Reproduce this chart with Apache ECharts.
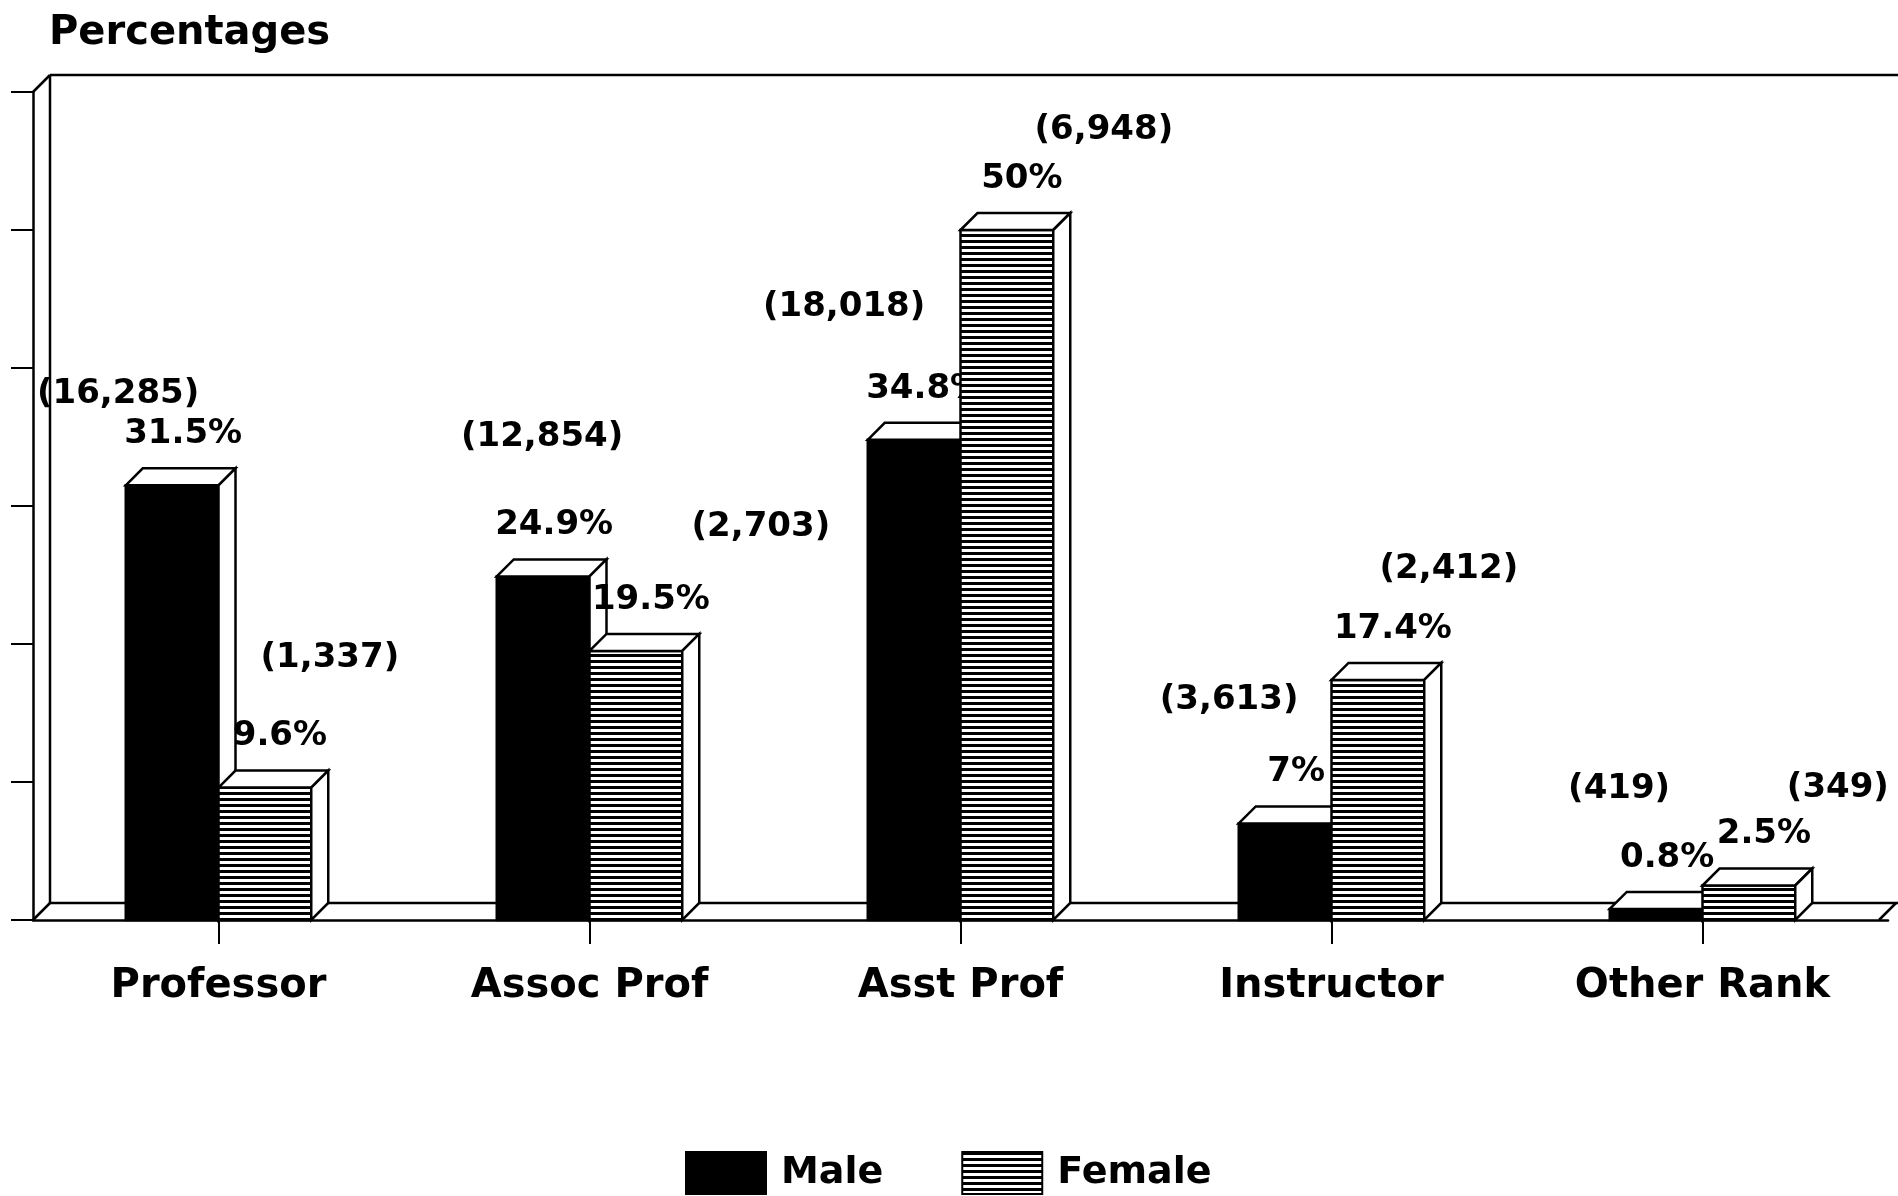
<!DOCTYPE html>
<html>
<head>
	<meta charset="utf-8">
	<title>Percentages by rank</title>
	<style>
		html, body { margin: 0; padding: 0; background: #fff; }
		#chart { width: 1898px; height: 1196px; }
	</style>
</head>
<body>
	<div id="chart"></div>
	<script src="https://cdn.jsdelivr.net/npm/echarts@6/dist/echarts.min.js"></script>
	<script type="text/javascript">
		// data
		var categories = ['Professor', 'Assoc Prof', 'Asst Prof', 'Instructor', 'Other Rank'];
		var malePct = [31.5, 24.9, 34.8, 7, 0.8];
		var femalePct = [9.6, 19.5, 50, 17.4, 2.5];
		var maleCount = [16285, 12854, 18018, 3613, 419];
		var femaleCount = [1337, 2703, 6948, 2412, 349];
		var yTicks = [0, 10, 20, 30, 40, 50, 60];

		// where the "(n)" labels sit, relative to the % label (they wander in the original)
		var maleCountNudge = [[-65, -40], [-12, -88], [-81, -82], [-67, -72], [-48, -69]];
		var femaleCountNudge = [[50, -78], [110, -73], [82, -49], [56, -60], [74, -46]];

		var FONT = '"DejaVu Sans", "Liberation Sans", sans-serif';
		var DEPTH = 17; // 3D offset in px
		var BAR_SHARE = 0.25; // each bar = quarter of the category band
		var LW = 2.5;

		// horizontal stripes for the female bars
		var stripe = document.createElement('canvas');
		stripe.width = 6;
		stripe.height = 6;
		var sctx = stripe.getContext('2d');
		sctx.fillStyle = '#fff';
		sctx.fillRect(0, 0, 6, 6);
		sctx.fillStyle = '#000';
		sctx.fillRect(0, 0, 6, 3);
		var stripeFill = { type: 'pattern', image: stripe, repeat: 'repeat' };

		function fmtCount(n) {
			return '(' + n.toLocaleString('en-US') + ')';
		}

		function makeRender(isMale, fill, nudges) {
			return function (params, api) {
				var i = api.value(0);
				var v = api.value(1);
				var n = api.value(2);
				var base = api.coord([i, 0]);
				var top = api.coord([i, v]);
				var w = api.size([1, 0])[0] * BAR_SHARE;
				var x0 = isMale ? base[0] - w : base[0];
				var x1 = x0 + w;
				var y0 = base[1];
				var y1 = top[1];
				var d = DEPTH;
				var line = { stroke: '#000', lineWidth: LW };
				var px = (x0 + x1) / 2 + (isMale ? 11 : 15);
				var py = y1 - d - 34;
				var nd = nudges[params.dataIndex];
				return {
					type: 'group',
					children: [
						{
							type: 'rect',
							shape: { x: x0, y: y1, width: w, height: y0 - y1 },
							style: { fill: fill, stroke: '#000', lineWidth: LW }
						},
						{
							type: 'polygon',
							shape: { points: [[x0, y1], [x0 + d, y1 - d], [x1 + d, y1 - d], [x1, y1]] },
							style: Object.assign({ fill: '#fff' }, line)
						},
						{
							type: 'polygon',
							shape: { points: [[x1, y1], [x1 + d, y1 - d], [x1 + d, y0 - d], [x1, y0]] },
							style: Object.assign({ fill: '#fff' }, line)
						},
						{
							type: 'text',
							style: {
								text: v + '%', x: px, y: py, align: 'center', verticalAlign: 'middle',
								fontFamily: FONT, fontWeight: 'bold', fontSize: 34, fill: '#000'
							}
						},
						{
							type: 'text',
							style: {
								text: fmtCount(n), x: px + nd[0], y: py + nd[1], align: 'center', verticalAlign: 'middle',
								fontFamily: FONT, fontWeight: 'bold', fontSize: 34, fill: '#000'
							}
						}
					]
				};
			};
		}

		// back wall + floor of the pseudo-3D box
		function renderFrame(params, api) {
			var cs = params.coordSys;
			var d = DEPTH;
			var W = api.getWidth();
			var bx = cs.x + d;
			var topY = cs.y - d;
			var floorY = cs.y + cs.height - d;
			var st = { stroke: '#000', lineWidth: LW, fill: null };
			function seg(a, b) {
				return { type: 'line', shape: { x1: a[0], y1: a[1], x2: b[0], y2: b[1] }, style: st };
			}
			return {
				type: 'group',
				children: [
					seg([bx, topY], [W, topY]),
					seg([bx, topY], [bx, floorY]),
					seg([cs.x, cs.y], [bx, topY]),
					seg([bx, floorY], [W, floorY]),
					seg([cs.x, cs.y + cs.height], [bx, floorY]),
					seg([W - 2, floorY], [W - 2 - d, cs.y + cs.height])
				]
			};
		}

		var maleData = [], femaleData = [];
		for (var i = 0; i < categories.length; i++) {
			maleData.push([i, malePct[i], maleCount[i]]);
			femaleData.push([i, femalePct[i], femaleCount[i]]);
		}

		var chart = echarts.init(document.getElementById('chart'), null, { renderer: 'canvas' });
		var option = {
			backgroundColor: '#fff',
			animation: false,
			title: {
				text: 'Percentages',
				left: 44,
				top: 9,
				textStyle: { fontFamily: FONT, fontWeight: 'bold', fontSize: 40, color: '#000' }
			},
			legend: {
				data: ['Male', 'Female'],
				left: 680,
				top: 1146,
				icon: 'rect',
				itemWidth: 80,
				itemHeight: 42,
				itemGap: 78,
				textStyle: { fontFamily: FONT, fontWeight: 'bold', fontSize: 38, color: '#000', padding: [6, 0, 0, 10] }
			},
			grid: { left: 33, right: 10, top: 92, bottom: 276, containLabel: false },
			xAxis: {
				type: 'category',
				data: categories,
				boundaryGap: true,
				axisLine: { show: true, lineStyle: { color: '#000', width: LW } },
				axisTick: { show: true, alignWithLabel: true, length: 24, lineStyle: { color: '#000', width: 2 } },
				axisLabel: { margin: 47, fontFamily: FONT, fontWeight: 'bold', fontSize: 40, color: '#000' },
				splitLine: { show: false }
			},
			yAxis: {
				type: 'value',
				min: yTicks[0],
				max: yTicks[yTicks.length - 1],
				interval: yTicks[1] - yTicks[0],
				axisLine: { show: true, lineStyle: { color: '#000', width: LW } },
				axisTick: { show: true, inside: false, length: 22, lineStyle: { color: '#000', width: 2 } },
				axisLabel: { show: false },
				splitLine: { show: false }
			},
			series: [
				{
					name: 'frame',
					type: 'custom',
					z: 1,
					silent: true,
					renderItem: renderFrame,
					data: [[0, 0]]
				},
				{
					name: 'Male',
					type: 'custom',
					z: 3,
					itemStyle: { color: '#000', borderColor: '#000', borderWidth: 2 },
					encode: { x: 0, y: 1 },
					renderItem: makeRender(true, '#000', maleCountNudge),
					data: maleData
				},
				{
					name: 'Female',
					type: 'custom',
					z: 4,
					itemStyle: { color: stripeFill, borderColor: '#000', borderWidth: 2 },
					encode: { x: 0, y: 1 },
					renderItem: makeRender(false, stripeFill, femaleCountNudge),
					data: femaleData
				}
			]
		};
		chart.setOption(option);
	</script>
</body>
</html>
